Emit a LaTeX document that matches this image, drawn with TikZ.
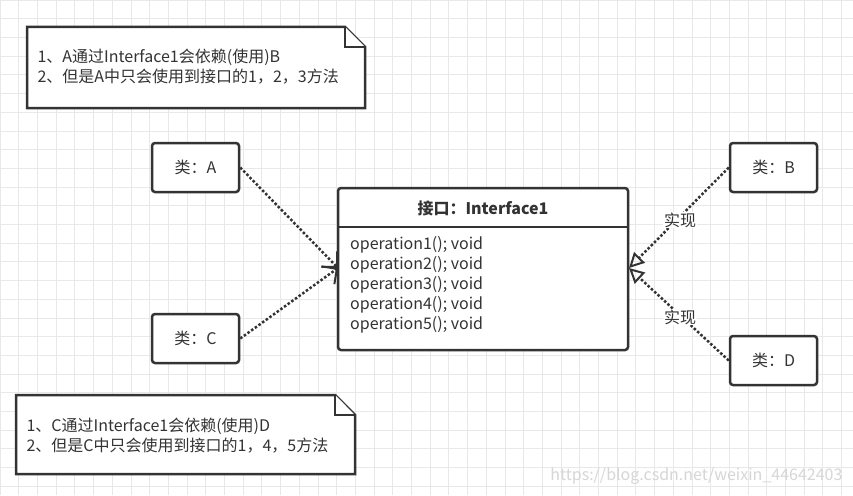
\documentclass[tikz,border=0pt]{standalone}
\usepackage{fontspec}
\setmainfont{Noto Sans CJK SC}
\usetikzlibrary{arrows.meta}
\definecolor{ink}{HTML}{333333}
\begin{document}
\begin{tikzpicture}[x=1pt,y=-1pt,
  box/.style={draw=ink,line width=2.5pt,rounded corners=3pt,fill=white},
  txt/.style={font=\fontsize{16}{20}\selectfont,text=ink},
  dep/.style={draw=ink,line width=2.5pt,dotted,-{Straight Barb[length=11pt,width=22pt,line width=2pt]}},
  real/.style={draw=ink,line width=2.5pt,dotted,-{Triangle[open,length=15pt,width=15pt,line width=2pt]}},
  note/.style={draw=ink,line width=2.5pt,fill=white,line join=miter}]
\useasboundingbox (0,0) rectangle (853,495);
\fill[white] (0,0) rectangle (853,495);
\foreach \x in {0,18.7,...,853} \draw[black!9,line width=0.8pt] (\x,0)--(\x,495);
\foreach \y in {0,18.7,...,495} \draw[black!9,line width=0.8pt] (0,\y)--(853,\y);
% notes
\draw[note] (27,27)--(345,27)--(365,47)--(365,108)--(27,108)--cycle;
\draw[note] (345,27)--(345,47)--(365,47);
\node[txt,anchor=west,align=left] (n1) at (34,67) {1、A通过Interface1会依赖(使用)B\\2、但是A中只会使用到接口的1，2，3方法};
\draw[note] (16,395)--(335,395)--(355,415)--(355,474)--(16,474)--cycle;
\draw[note] (335,395)--(335,415)--(355,415);
\node[txt,anchor=west,align=left] (n2) at (23,436) {1、C通过Interface1会依赖(使用)D\\2、但是C中只会使用到接口的1，4，5方法};
% class boxes
\node[box,txt,minimum width=87pt,minimum height=49pt] (A) at (195.5,167.5) {类：A};
\node[box,txt,minimum width=87pt,minimum height=49pt] (C) at (195.5,338.5) {类：C};
\node[box,txt,minimum width=87pt,minimum height=49pt] (B) at (773.5,167.5) {类：B};
\node[box,txt,minimum width=87pt,minimum height=49pt] (D) at (773.5,360.5) {类：D};
% interface
\node[box,minimum width=290pt,minimum height=162pt] (I) at (483,269) {};
\draw[ink,line width=2pt] (338,227)--(628,227);
\node[txt,font=\fontsize{16}{20}\selectfont\bfseries] (It) at (483,208) {接口：Interface1};
\node[txt,anchor=north west,align=left,inner sep=0pt] (ops) at (350,236)
 {operation1(); void\\operation2(); void\\operation3(); void\\operation4(); void\\operation5(); void};
\coordinate (L) at (338,268);
\coordinate (R) at (629,268);
\draw[dep] (A.east)--(L);
\draw[dep] (C.east)--(L);
\draw[real] (B.west)--(R);
\draw[real] (D.west)--(R);
\node[txt,fill=white,inner sep=1pt] (r1) at (680,220) {实现};
\node[txt,fill=white,inner sep=1pt] (r2) at (680,317) {实现};
\node[font=\fontsize{16}{18}\selectfont,text=black!16,anchor=east] (wm) at (846,476) {https://blog.csdn.net/weixin\_44642403};
\end{tikzpicture}
\end{document}
